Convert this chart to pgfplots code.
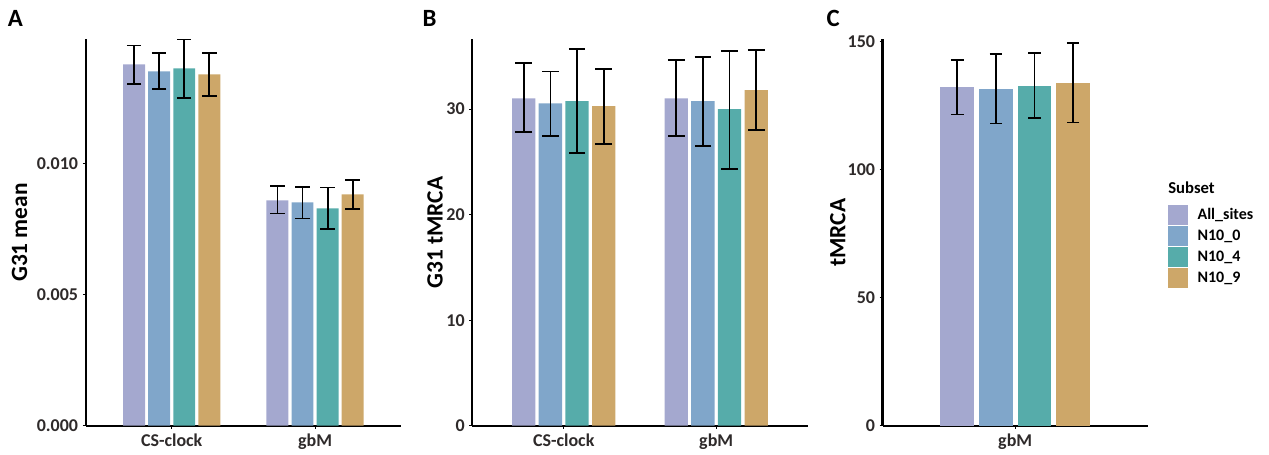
\documentclass[border=0pt]{standalone}
\usepackage{fontspec}
\setmainfont{Carlito}
\usepackage{pgfplots}
\pgfplotsset{compat=1.18}
\usepackage{pgfplotstable}

\definecolor{cA}{HTML}{A4A8CF}
\definecolor{cB}{HTML}{80A6CA}
\definecolor{cC}{HTML}{56ACAA}
\definecolor{cD}{HTML}{CDA769}
\definecolor{ticktxt}{HTML}{2E2A2A}

% panel A: G31 mean
\pgfplotstableread{
x a ap am b bp bm c cp cm d dp dm
1 0.013774 0.000723 0.000762 0.013507 0.000712 0.000674 0.013621 0.001105 0.001131 0.013393 0.000811 0.000811
2 0.008595 0.000533 0.000507 0.008519 0.000571 0.000621 0.008290 0.000788 0.000800 0.008823 0.000533 0.000560
}\tabA
% panel B: G31 tMRCA
\pgfplotstableread{
x a ap am b bp bm c cp cm d dp dm
1 31.01 3.31 3.22 30.53 3.03 3.06 30.75 4.90 4.95 30.28 3.54 3.63
2 31.01 3.66 3.60 30.75 4.17 4.29 30.00 5.52 5.69 31.80 3.79 3.79
}\tabB
% panel C: tMRCA
\pgfplotstableread{
x a ap am b bp bm c cp cm d dp dm
1 132.28 10.56 10.81 131.50 13.43 13.55 132.67 12.64 12.64 133.85 15.64 15.51
}\tabC

\pgfplotsset{
  panel/.style={
    scale only axis,
    height=289.8pt,
    axis x line=bottom, axis y line=left,
    axis line style={line width=1.8pt, -},
    ymin=0,
    tick align=outside,
    major tick length=2.2pt,
    tick style={line width=0.6pt, color=black},
    /pgf/number format/assume math mode=true,
    tick label style={font=\bfseries\fontsize{13.5}{15}\selectfont, text=ticktxt},
    ylabel style={font=\bfseries\fontsize{17.5}{20}\selectfont, anchor=center},
    ybar, bar width=0.153,
    legend image code/.code={\fill[##1] (0pt,-7.5pt) rectangle (15pt,7.5pt);},
  },
  ebar/.style 2 args={draw=none, fill=#1,
    error bars/y dir=both, error bars/y explicit,
    error bars/error bar style={line width=1.35pt, black},
    error bars/error mark options={rotate=90, line width=1.35pt, black, mark size=#2}},
}

\begin{document}
\begin{tikzpicture}
\path[use as bounding box] (0,0) rectangle (951.75pt,340.5pt);

\node[font=\bfseries\fontsize{18.6}{20}\selectfont] at (11.6pt,327pt) {A};
\node[font=\bfseries\fontsize{18.6}{20}\selectfont] at (322.1pt,327pt) {B};
\node[font=\bfseries\fontsize{18.6}{20}\selectfont] at (624.8pt,327pt) {C};

% ---------- Panel A ----------
\begin{axis}[panel, at={(64.3pt,21.2pt)}, anchor=south west,
  width=236.5pt,
  xmin=0.4, xmax=2.6, ymax=0.01473,
  xtick={1,2}, xticklabels={CS-clock,gbM},
  ytick={0,0.005,0.010},
  scaled y ticks=false,
  yticklabel style={/pgf/number format/.cd, fixed, fixed zerofill, precision=3},
  ylabel={G31 mean},
  ylabel style={at={(axis description cs:-0.21,0.5)}},
]
\addplot[ebar={cA}{5.4pt}, bar shift=-0.2625] table[x=x, y=a, y error plus=ap, y error minus=am] {\tabA};
\addplot[ebar={cB}{5.4pt}, bar shift=-0.0875] table[x=x, y=b, y error plus=bp, y error minus=bm] {\tabA};
\addplot[ebar={cC}{5.4pt}, bar shift=0.0875] table[x=x, y=c, y error plus=cp, y error minus=cm] {\tabA};
\addplot[ebar={cD}{5.4pt}, bar shift=0.2625] table[x=x, y=d, y error plus=dp, y error minus=dm] {\tabA};
\end{axis}

% ---------- Panel B ----------
\begin{axis}[panel, at={(354.2pt,21.2pt)}, anchor=south west,
  width=251.55pt,
  xmin=0.4, xmax=2.6, ymax=36.6,
  xtick={1,2}, xticklabels={CS-clock,gbM},
  ytick={0,10,20,30},
  ylabel={G31 tMRCA},
  ylabel style={at={(axis description cs:-0.111,0.5)}},
]
\addplot[ebar={cA}{6.25pt}, bar shift=-0.2625] table[x=x, y=a, y error plus=ap, y error minus=am] {\tabB};
\addplot[ebar={cB}{6.25pt}, bar shift=-0.0875] table[x=x, y=b, y error plus=bp, y error minus=bm] {\tabB};
\addplot[ebar={cC}{6.25pt}, bar shift=0.0875] table[x=x, y=c, y error plus=cp, y error minus=cm] {\tabB};
\addplot[ebar={cD}{6.25pt}, bar shift=0.2625] table[x=x, y=d, y error plus=dp, y error minus=dm] {\tabB};
\end{axis}

% ---------- Panel C ----------
\begin{axis}[panel, at={(662.0pt,21.2pt)}, anchor=south west,
  width=198.75pt,
  xmin=0.4, xmax=1.6, ymax=150.8,
  xtick={1}, xticklabels={gbM},
  ytick={0,50,100,150},
  ylabel={tMRCA},
  ylabel style={at={(axis description cs:-0.169,0.5)}},
  legend style={at={(axis description cs:1.0766,0.5712)}, anchor=north west,
    draw=none, fill=none, inner sep=0pt, row sep=0.7pt,
    font=\bfseries\fontsize{12}{13}\selectfont,
    nodes={inner sep=0pt}},
  legend cell align=left,
]
\addplot[ebar={cA}{4.75pt}, bar shift=-0.2625] table[x=x, y=a, y error plus=ap, y error minus=am] {\tabC};
\addlegendentry{\hspace{7pt}All\_sites}
\addplot[ebar={cB}{4.75pt}, bar shift=-0.0875] table[x=x, y=b, y error plus=bp, y error minus=bm] {\tabC};
\addlegendentry{\hspace{7pt}N10\_0}
\addplot[ebar={cC}{4.75pt}, bar shift=0.0875] table[x=x, y=c, y error plus=cp, y error minus=cm] {\tabC};
\addlegendentry{\hspace{7pt}N10\_4}
\addplot[ebar={cD}{4.75pt}, bar shift=0.2625] table[x=x, y=d, y error plus=dp, y error minus=dm] {\tabC};
\addlegendentry{\hspace{7pt}N10\_9}
\end{axis}
\node[anchor=base west, font=\bfseries\fontsize{12.5}{14}\selectfont, inner sep=0pt] at (876.0pt,195.5pt) {Subset};
\end{tikzpicture}
\end{document}
